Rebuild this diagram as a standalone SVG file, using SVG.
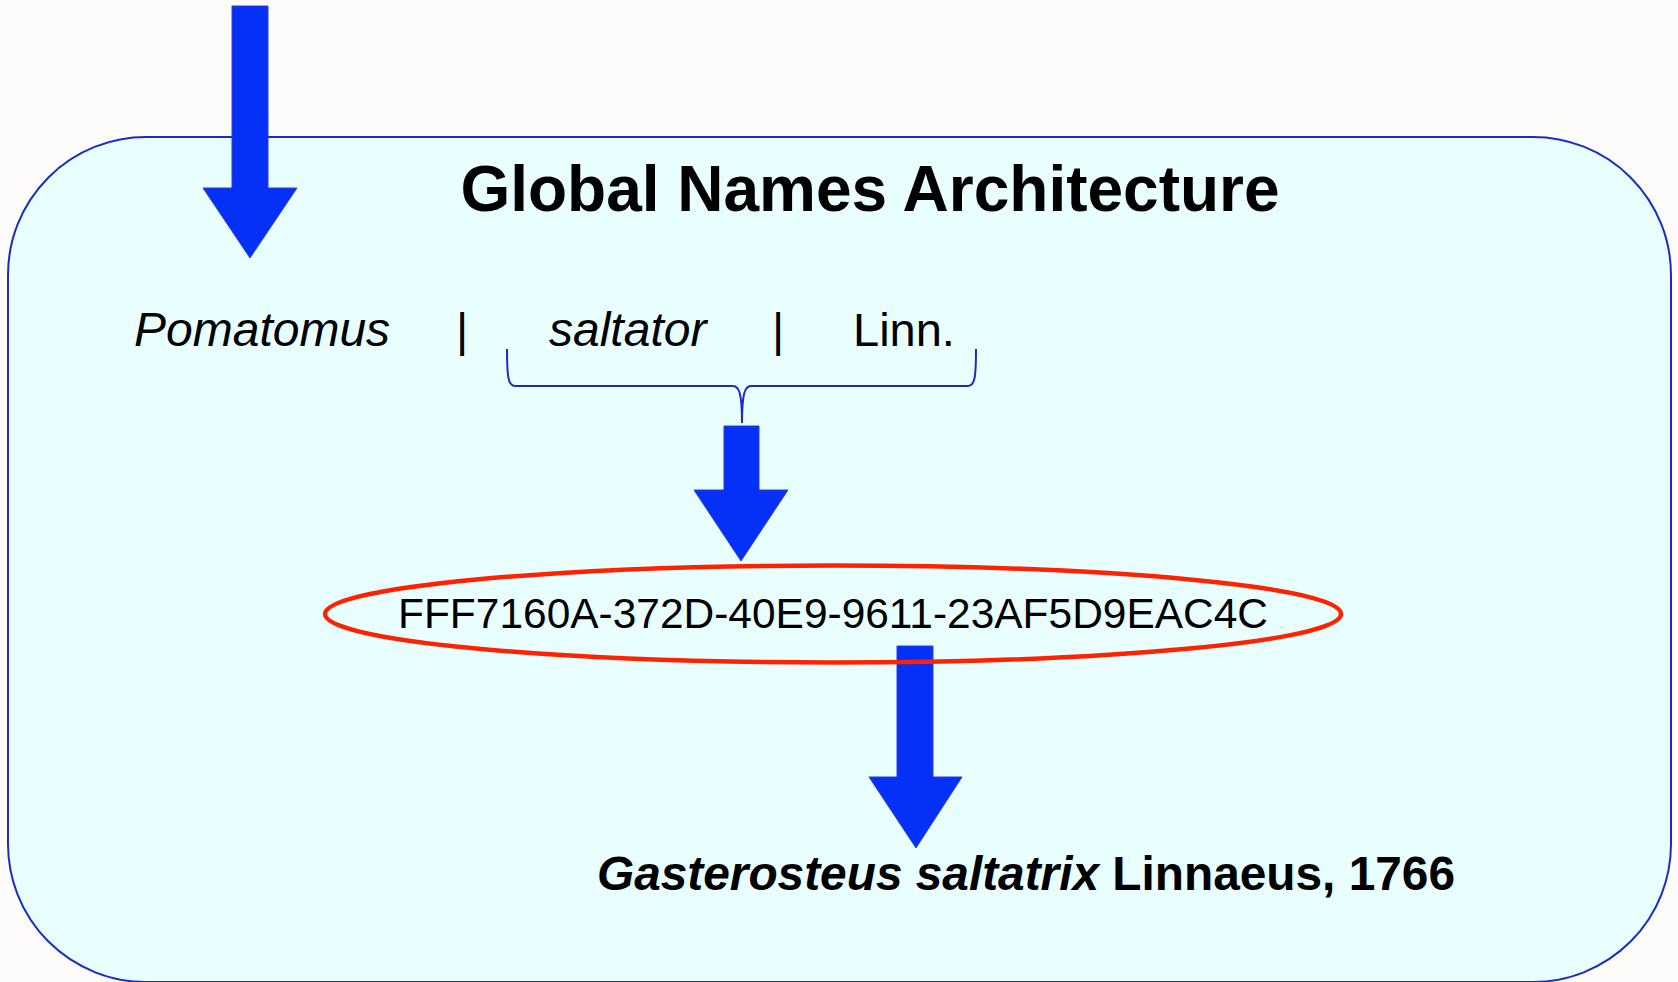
<svg xmlns="http://www.w3.org/2000/svg" width="1678" height="982" viewBox="0 0 1678 982">
  <style>
    .arrow { fill: #0530f8; stroke: #2a3fd8; stroke-width: 1; }
    .txt { font-family: "Liberation Sans", Arial, sans-serif; fill: #000; }
    .brace { fill: none; stroke: #1a2bc8; stroke-width: 2; }
  </style>
  <rect x="0" y="0" width="1678" height="982" fill="#fdfcfb"/>
  <g id="gna-box">
    <rect x="8" y="137" width="1663" height="845" rx="138" ry="138" fill="#e9fefe" stroke="#1a2bc8" stroke-width="2"/>
    <text class="txt" x="870" y="211" font-size="64" font-weight="bold" text-anchor="middle">Global Names Architecture</text>
  </g>
  <g id="name-parts">
    <text class="txt" x="134" y="346" font-size="48" font-style="italic">Pomatomus</text>
    <text class="txt" x="456" y="346" font-size="47">|</text>
    <text class="txt" x="549" y="346" font-size="48" font-style="italic">saltator</text>
    <text class="txt" x="772" y="346" font-size="47">|</text>
    <text class="txt" x="853" y="346" font-size="47">Linn.</text>
  </g>
  <g id="uuid">
    <text class="txt" x="833" y="628" font-size="42" text-anchor="middle" textLength="870" lengthAdjust="spacingAndGlyphs">FFF7160A-372D-40E9-9611-23AF5D9EAC4C</text>
  </g>
  <g id="result">
    <text class="txt" x="597" y="890" font-size="48" font-weight="bold" textLength="858" lengthAdjust="spacingAndGlyphs"><tspan font-style="italic">Gasterosteus saltatrix</tspan> Linnaeus, 1766</text>
  </g>
  <g id="connectors">
    <polygon class="arrow" points="232,6 268,6 268,188 297,188 250,258 203,188 232,188"/>
    <path class="brace" d="M507,349 C507,376 508,386 515,386 L733,386 C739,386 742,393 742,423 C742,393 745,386 751,386 L968,386 C975,386 976,376 976,349"/>
    <polygon class="arrow" points="724,426 759,426 759,490 788,490 741,561 694,490 724,490"/>
    <polygon class="arrow" points="897,646 933,646 933,777 962,777 916,848 869,777 897,777"/>
    <ellipse cx="833" cy="614" rx="508" ry="48.5" fill="none" stroke="#ff2200" stroke-width="4.5"/>
  </g>
</svg>
